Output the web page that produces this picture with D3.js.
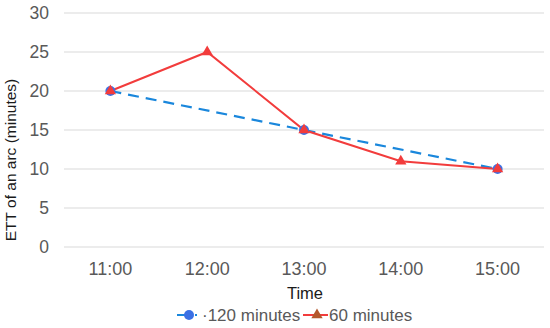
<!DOCTYPE html>
<html>
<head>
<meta charset="utf-8">
<script src="https://cdn.jsdelivr.net/npm/d3@7"></script>
<style>
  body { margin: 0; background: #fff; }
  text { font-family: "Liberation Sans", Arial, sans-serif; }
</style>
</head>
<body>
<div id="chart"></div>
<script>
var times = ["11:00", "12:00", "13:00", "14:00", "15:00"];
var min120 = [20, null, 15, null, 10];
var min60 = [20, 25, 15, 11, 10];
var yTicks = [0, 5, 10, 15, 20, 25, 30];

var svgWidth = 550, svgHeight = 328;
var margin = { top: 13, right: 4, bottom: 81, left: 62 };
var width = svgWidth - margin.left - margin.right;
var height = svgHeight - margin.top - margin.bottom;

var svg = d3.select("#chart").append("svg")
  .attr("width", svgWidth)
  .attr("height", svgHeight);

var g = svg.append("g")
  .attr("transform", `translate(${margin.left}, ${margin.top})`);

var x = d3.scaleBand().domain(times).range([0, width]);
var y = d3.scaleLinear().domain([0, 30]).range([height, 0]);

// gridlines
g.selectAll(".grid").data(yTicks).enter().append("line")
  .attr("x1", 2).attr("x2", width - 2)
  .attr("y1", d => y(d)).attr("y2", d => y(d))
  .attr("stroke", "#d9d9d9").attr("stroke-width", 1);

// y tick labels
g.selectAll(".ylab").data(yTicks).enter().append("text")
  .attr("x", -13).attr("y", d => y(d)).attr("dy", "0.36em")
  .attr("text-anchor", "end")
  .attr("font-size", 17.5).attr("fill", "#595959")
  .text(d => d);

// x tick labels
g.selectAll(".xlab").data(times).enter().append("text")
  .attr("x", d => x(d) + x.bandwidth() / 2)
  .attr("y", height + 28)
  .attr("text-anchor", "middle")
  .attr("font-size", 18).attr("fill", "#595959")
  .text(d => d);

var cx = d => x(d.t) + x.bandwidth() / 2;

var d120 = times.map((t, i) => ({ t: t, v: min120[i] })).filter(d => d.v != null);
var d60 = times.map((t, i) => ({ t: t, v: min60[i] }));

var line = d3.line().x(cx).y(d => y(d.v));

var blueLine = "#1a87dc", blueDot = "#3b70e4", red = "#f23c3c", brown = "#b3582c";

g.append("path").datum(d120)
  .attr("d", line).attr("fill", "none")
  .attr("stroke", blueLine).attr("stroke-width", 2.2)
  .attr("stroke-dasharray", "11,7");

g.append("path").datum(d60)
  .attr("d", line).attr("fill", "none")
  .attr("stroke", red).attr("stroke-width", 2);

g.selectAll(".dot").data(d120).enter().append("circle")
  .attr("cx", cx).attr("cy", d => y(d.v)).attr("r", 5)
  .attr("fill", blueDot);

var tri = d3.symbol().type(d3.symbolTriangle).size(55);
g.selectAll(".tri").data(d60).enter().append("path")
  .attr("d", tri)
  .attr("transform", d => `translate(${cx(d)}, ${y(d.v)})`)
  .attr("fill", red);

// axis titles
svg.append("text")
  .attr("transform", "translate(16, 160) rotate(-90)")
  .attr("text-anchor", "middle")
  .attr("font-size", 15.5).attr("fill", "#1a1a1a")
  .text("ETT of an arc (minutes)");

svg.append("text")
  .attr("x", 305).attr("y", 299)
  .attr("text-anchor", "middle")
  .attr("font-size", 16.5).attr("fill", "#1a1a1a")
  .text("Time");

// legend
var lg = svg.append("g").attr("transform", "translate(0, 315)");
lg.append("line").attr("x1", 177).attr("x2", 197).attr("y1", 0).attr("y2", 0)
  .attr("stroke", blueLine).attr("stroke-width", 2.2).attr("stroke-dasharray", "13,5");
lg.append("circle").attr("cx", 189).attr("cy", 0).attr("r", 5).attr("fill", blueDot);
lg.append("text").attr("x", 202).attr("y", 0).attr("dy", "0.36em")
  .attr("font-size", 17).attr("fill", "#595959").text("·120 minutes");
lg.append("line").attr("x1", 303).attr("x2", 328).attr("y1", 0).attr("y2", 0)
  .attr("stroke", red).attr("stroke-width", 2);
lg.append("path").attr("d", tri)
  .attr("transform", "translate(317, 0)").attr("fill", brown);
lg.append("text").attr("x", 329).attr("y", 0).attr("dy", "0.36em")
  .attr("font-size", 17).attr("fill", "#595959").text("60 minutes");
</script>
</body>
</html>
